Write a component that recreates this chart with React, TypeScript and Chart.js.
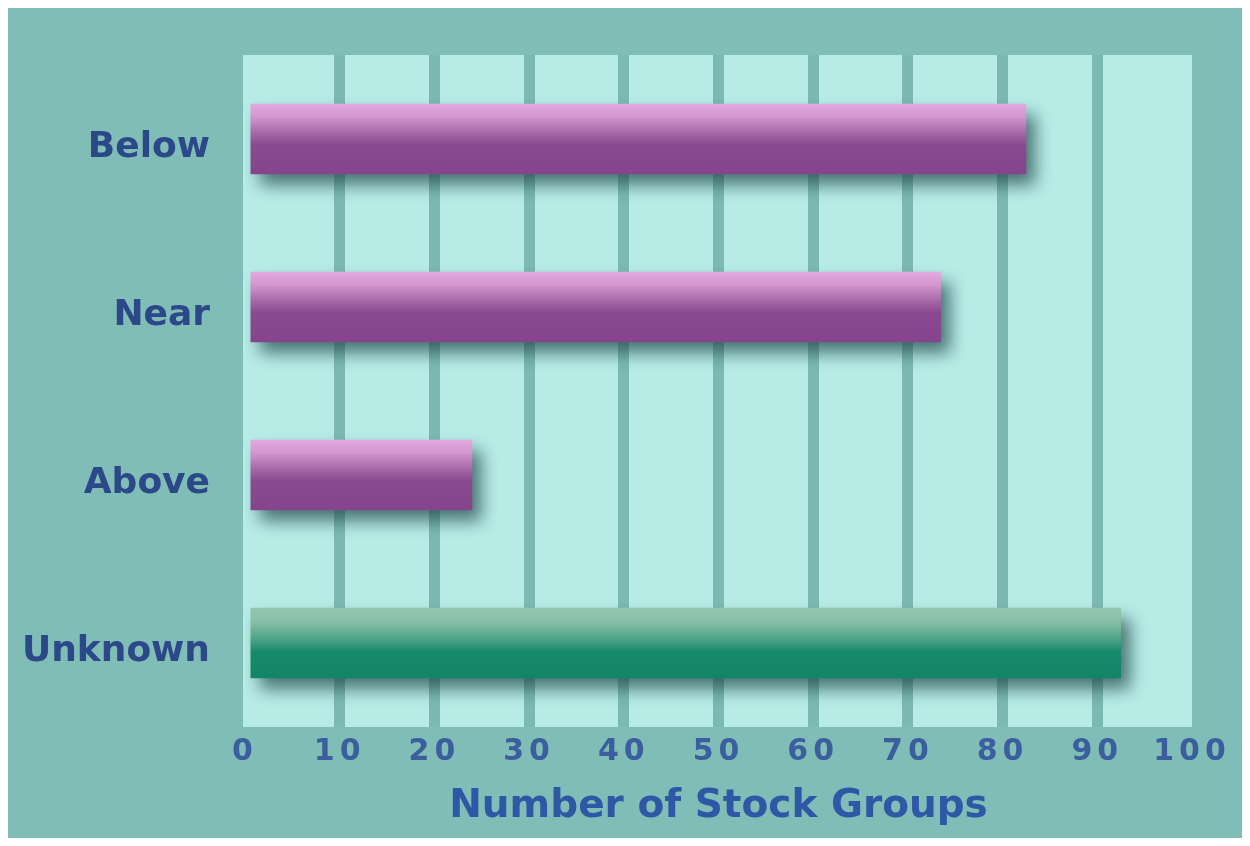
import React, { useEffect, useRef } from 'react';
import { Chart, registerables } from 'chart.js';

Chart.register(...registerables);

const CATEGORIES = ['Below', 'Near', 'Above', 'Unknown'];
const VALUES = [82.5, 73.5, 24, 92.5];
const BAR_GROUP = ['purple', 'purple', 'purple', 'green'];
const X_MIN = 0;
const X_MAX = 100;
const X_STEP = 10;
const X_TITLE = 'Number of Stock Groups';

const GRADIENTS: Record<string, [number, string][]> = {
  purple: [
    [0, '#e2abde'],
    [0.18, '#d497cf'],
    [0.42, '#a566a6'],
    [0.58, '#8b4a8f'],
    [1, '#86458a'],
  ],
  green: [
    [0, '#93c7b0'],
    [0.2, '#86bfa7'],
    [0.45, '#4da386'],
    [0.62, '#178b69'],
    [1, '#118565'],
  ],
};
const SOLID: Record<string, string> = { purple: '#8b4a8f', green: '#178b69' };
const BAR_PCT = 0.42;
const FONT = '"DejaVu Sans", sans-serif';

const decor = {
  id: 'decor',
  beforeDraw(chart: any) {
    const { ctx, chartArea: a, width, height } = chart;
    ctx.save();
    ctx.fillStyle = '#7fbdb6';
    ctx.fillRect(0, 0, width, height);
    ctx.fillStyle = '#b6ebe6';
    ctx.fillRect(a.left - 2, a.top, a.right - a.left + 2, a.bottom - a.top);
    ctx.restore();
  },
  beforeDatasetsDraw(chart: any) {
    const ctx = chart.ctx;
    ctx.save();
    ctx.shadowColor = 'rgba(25,65,65,0.7)';
    ctx.shadowBlur = 16;
    ctx.shadowOffsetX = 9;
    ctx.shadowOffsetY = 11;
  },
  afterDatasetsDraw(chart: any) {
    chart.ctx.restore();
    chart.ctx.letterSpacing = '5px';
  },
  afterDraw(chart: any) {
    chart.ctx.letterSpacing = '0px';
  },
};

export default function App() {
  const ref = useRef<HTMLCanvasElement | null>(null);

  useEffect(() => {
    if (!ref.current) return;
    const chart = new Chart(ref.current, {
      type: 'bar',
      data: {
        labels: CATEGORIES,
        datasets: [
          {
            data: VALUES,
            barPercentage: BAR_PCT,
            categoryPercentage: 1,
            borderWidth: 0,
            backgroundColor: (c: any) => {
              const group = BAR_GROUP[c.dataIndex] || 'purple';
              const chartObj = c.chart;
              const y = chartObj.scales && chartObj.scales.y;
              if (!chartObj.chartArea || !y) return SOLID[group];
              const center = y.getPixelForValue(c.dataIndex);
              const h = (y.height / CATEGORIES.length) * BAR_PCT;
              if (!isFinite(center) || !isFinite(h)) return SOLID[group];
              const g = chartObj.ctx.createLinearGradient(0, center - h / 2, 0, center + h / 2);
              GRADIENTS[group].forEach(([p, col]) => g.addColorStop(p, col));
              return g;
            },
          },
        ],
      },
      options: {
        indexAxis: 'y',
        responsive: false,
        animation: false,
        layout: { autoPadding: false, padding: { top: 47, right: 50, left: 0, bottom: 0 } },
        plugins: {
          legend: { display: false },
          tooltip: { enabled: false },
        },
        scales: {
          x: {
            min: X_MIN,
            max: X_MAX,
            afterFit: (s: any) => {
              s.height = 111;
            },
            ticks: {
              stepSize: X_STEP,
              color: '#3b5e9e',
              font: { family: FONT, size: 30, weight: 'bold' },
              padding: 7,
              z: 1,
            },
            grid: {
              color: (c: any) =>
                c.tick && (c.tick.value === X_MIN || c.tick.value === X_MAX)
                  ? 'rgba(0,0,0,0)'
                  : '#7cb9b3',
              lineWidth: 11,
              drawTicks: false,
            },
            border: { display: false },
            title: {
              display: true,
              text: X_TITLE,
              color: '#2e58a6',
              font: { family: FONT, size: 39, weight: 'bold' },
              padding: { top: 0, bottom: 8 },
            },
          },
          y: {
            afterFit: (s: any) => {
              s.width = 237;
            },
            ticks: {
              color: '#2b4888',
              font: { family: FONT, size: 36, weight: 'bold' },
              padding: 0,
              labelOffset: 9,
            },
            grid: { display: false, drawTicks: true, tickLength: 35 },
            border: { display: false },
          },
        },
      } as any,
      plugins: [decor],
    });
    return () => chart.destroy();
  }, []);

  return <canvas ref={ref} width={1234} height={830} style={{ display: 'block' }} />;
}
